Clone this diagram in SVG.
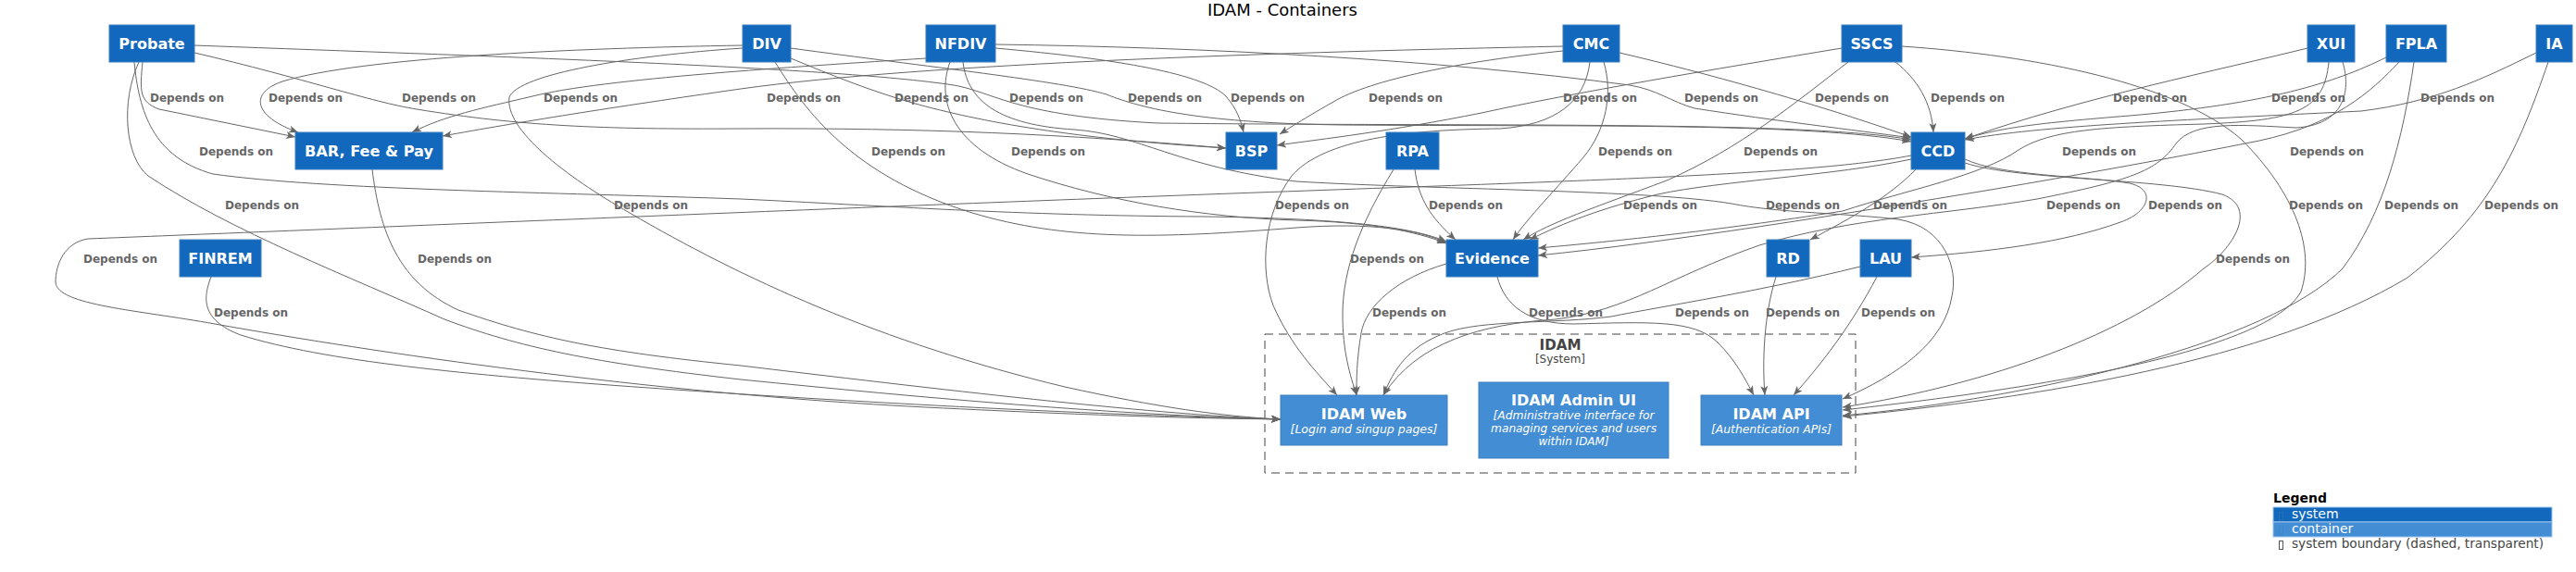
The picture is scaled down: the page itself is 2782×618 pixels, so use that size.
<svg xmlns="http://www.w3.org/2000/svg" width="2782" height="618" viewBox="0 0 2782 618">
<style>
.e path{fill:none;stroke:#666;stroke-width:1;marker-end:url(#a)}
.e text{font-family:"DejaVu Sans",sans-serif;font-weight:bold;font-size:12px;fill:#666}
.sys rect{fill:#1168BD;stroke:#3C7FC0;stroke-width:1}
.con rect{fill:#438DD5;stroke:#3C7FC0;stroke-width:1}
.t{font-family:"DejaVu Sans",sans-serif;font-weight:bold;font-size:16px;fill:#fff;text-anchor:middle}
.d{font-family:"DejaVu Sans",sans-serif;font-style:italic;font-size:12px;fill:#fff;text-anchor:middle}
.lg{font-family:"DejaVu Sans",sans-serif;font-size:14px}
</style>
<defs>
<marker id="a" viewBox="0 0 10 8" refX="10" refY="4" markerWidth="10" markerHeight="8" markerUnits="userSpaceOnUse" orient="auto"><path d="M0,0 L10,4 L0,8 L2.5,4 Z" fill="#666"/></marker>
</defs>
<rect width="2782" height="618" fill="#fff"/>
<text x="1385" y="17" font-family="DejaVu Sans, sans-serif" font-size="18" text-anchor="middle" fill="#000">IDAM - Containers</text>

<g id="idam-boundary">
<rect x="1366" y="361" width="638" height="150" fill="none" stroke="#444" stroke-width="1" stroke-dasharray="9,6"/>
<text x="1685" y="378" font-family="DejaVu Sans, sans-serif" font-weight="bold" font-size="16" fill="#444" text-anchor="middle" textLength="45" lengthAdjust="spacingAndGlyphs">IDAM</text>
<text x="1685" y="392" font-family="DejaVu Sans, sans-serif" font-size="12" fill="#444" text-anchor="middle">[System]</text>
</g>

<g id="connectors" class="e">
<g><path d="M154,67 C151,98 150,110 172,118 L319,148"/><text x="162" y="110">Depends on</text></g>
<g><path d="M802,49 C620,52 390,62 305,88 C270,100 272,125 322,143"/><text x="290" y="110">Depends on</text></g>
<g><path d="M210,57 C330,85 400,110 450,118 C560,136 650,140 800,139 C1000,138 1150,145 1324,160"/><text x="434" y="110">Depends on</text></g>
<g><path d="M1000,63 C860,72 650,85 575,104 C520,117 480,125 445,143"/><text x="587" y="110">Depends on</text></g>
<g><path d="M1688,50 C1400,56 1000,68 800,96 C660,116 560,132 478,147"/><text x="828" y="110">Depends on</text></g>
<g><path d="M854,63 C900,82 940,98 985,111 C1060,132 1160,150 1324,160"/><text x="966" y="110">Depends on</text></g>
<g><path d="M210,49 C500,60 900,72 1030,92 C1075,100 1095,125 1250,133 C1600,137 1950,130 2064,151"/><text x="1090" y="110">Depends on</text></g>
<g><path d="M854,52 C1000,72 1150,88 1195,102 C1235,118 1300,133 1450,135 C1700,137 1950,132 2064,153"/><text x="1218" y="110">Depends on</text></g>
<g><path d="M1075,52 C1210,64 1300,80 1324,104 C1336,118 1340,130 1343,143"/><text x="1329" y="110">Depends on</text></g>
<g><path d="M1688,55 C1580,66 1480,86 1440,110 C1412,126 1396,136 1382,145"/><text x="1478" y="110">Depends on</text></g>
<g><path d="M1989,52 C1850,75 1700,100 1600,122 C1500,142 1430,150 1379,157"/><text x="1688" y="110">Depends on</text></g>
<g><path d="M1075,48 C1300,51 1550,64 1760,92 C1790,97 1805,110 1830,117 C1920,131 2000,140 2064,149"/><text x="1819" y="110">Depends on</text></g>
<g><path d="M1749,57 C1830,76 1900,96 1950,111 C2000,126 2035,138 2064,148"/><text x="1960" y="110">Depends on</text></g>
<g><path d="M2047,67 C2070,85 2086,110 2088,143"/><text x="2085" y="110">Depends on</text></g>
<g><path d="M2492,52 C2400,75 2250,105 2122,150"/><text x="2282" y="110">Depends on</text></g>
<g><path d="M2577,62 C2520,90 2450,112 2300,125 C2200,133 2160,138 2122,150"/><text x="2453" y="110">Depends on</text></g>
<g><path d="M2739,57 C2680,86 2630,110 2550,120 C2350,130 2200,136 2122,151"/><text x="2614" y="110">Depends on</text></g>

<g><path d="M145,67 C150,120 165,170 230,188 C350,205 600,208 800,215 C950,222 1100,233 1300,234 C1450,236 1525,245 1562,261"/><text x="215" y="168">Depends on</text></g>
<g><path d="M837,67 C870,120 920,190 1050,230 C1150,260 1250,258 1400,246 C1480,240 1530,248 1562,262"/><text x="941" y="168">Depends on</text></g>
<g><path d="M1026,67 C1010,110 1030,160 1110,188 C1200,218 1300,235 1400,238 C1480,240 1530,250 1562,263"/><text x="1092" y="168">Depends on</text></g>
<g><path d="M1732,67 C1742,100 1735,140 1710,170 C1680,205 1650,235 1634,259"/><text x="1726" y="168">Depends on</text></g>
<g><path d="M1996,67 C1940,110 1880,160 1800,195 C1720,225 1675,240 1645,259"/><text x="1883" y="168">Depends on</text></g>
<g><path d="M2515,67 C2510,120 2480,130 2380,134 C2270,137 2215,140 2180,162 C2140,190 2060,205 1990,228 C1850,250 1730,262 1661,268"/><text x="2227" y="168">Depends on</text></g>
<g><path d="M2591,67 C2560,100 2520,135 2440,152 C2350,170 2250,188 2150,205 C2000,230 1800,262 1661,276"/><text x="2473" y="168">Depends on</text></g>

<g><path d="M150,67 C130,110 135,170 160,190 C250,250 380,300 480,345 C560,375 640,392 800,410 C1000,430 1200,448 1383,453"/><text x="243" y="226">Depends on</text></g>
<g><path d="M802,52 C680,60 560,80 550,105 C545,140 610,190 680,230 C800,300 950,370 1150,418 C1250,440 1320,450 1383,453"/><text x="663" y="226">Depends on</text></g>
<g><path d="M1717,67 C1712,110 1680,135 1620,139 C1520,140 1430,150 1395,190 C1365,230 1360,290 1375,330 C1395,375 1420,400 1444,427"/><text x="1377" y="226">Depends on</text></g>
<g><path d="M1528,183 C1532,215 1545,235 1572,259"/><text x="1543" y="226">Depends on</text></g>
<g><path d="M2064,172 C1980,190 1860,195 1790,210 C1730,225 1690,240 1652,259"/><text x="1753" y="226">Depends on</text></g>
<g><path d="M1040,67 C1045,110 1080,135 1160,140 C1230,145 1270,180 1400,196 C1550,205 1780,205 1870,220 C1920,230 1990,230 2050,237 C2100,245 2115,290 2108,320 C2100,370 2050,405 1990,431"/><text x="1907" y="226">Depends on</text></g>
<g><path d="M2069,183 C2040,213 2000,235 1955,259"/><text x="2023" y="226">Depends on</text></g>
<g><path d="M2530,67 C2540,100 2530,135 2480,138 C2420,135 2370,130 2350,155 C2330,185 2300,195 2200,215 C2100,232 2000,235 1900,265 C1800,300 1760,335 1680,345 C1600,350 1530,370 1494,427"/><text x="2210" y="226">Depends on</text></g>
<g><path d="M2122,172 C2160,190 2250,190 2300,198 C2330,205 2320,230 2290,240 C2230,262 2150,272 2064,278"/><text x="2320" y="226">Depends on</text></g>
<g><path d="M2054,50 C2200,60 2350,90 2420,150 C2480,210 2500,270 2485,315 C2450,380 2200,420 1990,443"/><text x="2472" y="226">Depends on</text></g>
<g><path d="M2607,67 C2595,150 2575,230 2530,290 C2450,370 2200,430 1990,449"/><text x="2575" y="226">Depends on</text></g>
<g><path d="M2752,67 C2720,160 2690,230 2600,300 C2450,390 2200,430 1990,450"/><text x="2683" y="226">Depends on</text></g>

<g><path d="M2064,168 C1950,190 1700,195 1250,212 C900,225 300,250 95,258 C70,262 60,285 60,305 C62,330 150,335 232,350 C400,380 700,425 1000,440 C1200,450 1300,452 1383,453"/><text x="90" y="284">Depends on</text></g>
<g><path d="M402,183 C410,250 430,305 495,335 C580,365 650,380 800,395 C1050,425 1250,448 1383,453"/><text x="451" y="284">Depends on</text></g>
<g><path d="M1505,183 C1470,240 1450,290 1450,340 C1450,380 1458,405 1465,427"/><text x="1458" y="284">Depends on</text></g>
<g><path d="M2122,176 C2180,195 2330,192 2400,210 C2440,225 2410,270 2380,290 C2300,360 2150,415 1990,440"/><text x="2393" y="284">Depends on</text></g>

<g><path d="M228,299 C220,320 215,345 260,362 C350,390 500,405 700,419 C1000,440 1250,450 1383,453"/><text x="231" y="342">Depends on</text></g>
<g><path d="M1562,285 C1510,300 1475,330 1470,360 C1465,390 1465,410 1465,427"/><text x="1482" y="342">Depends on</text></g>
<g><path d="M2009,288 C1900,315 1800,330 1740,342 C1680,350 1600,345 1560,360 C1520,375 1505,400 1494,427"/><text x="1651" y="342">Depends on</text></g>
<g><path d="M1617,299 C1625,330 1650,350 1700,350 C1780,348 1830,345 1855,370 C1875,390 1885,410 1894,427"/><text x="1809" y="342">Depends on</text></g>
<g><path d="M1918,299 C1905,340 1903,390 1906,427"/><text x="1907" y="342">Depends on</text></g>
<g><path d="M2027,299 C2000,350 1970,390 1937,427"/><text x="2010" y="342">Depends on</text></g>
</g>

<g id="probate" class="sys"><rect x="118" y="27" width="92" height="40"/><text class="t" x="164" y="53">Probate</text></g>
<g id="div" class="sys"><rect x="802" y="27" width="52" height="40"/><text class="t" x="828" y="53">DIV</text></g>
<g id="nfdiv" class="sys"><rect x="1000" y="27" width="75" height="40"/><text class="t" x="1037.5" y="53">NFDIV</text></g>
<g id="cmc" class="sys"><rect x="1688" y="27" width="61" height="40"/><text class="t" x="1718.5" y="53">CMC</text></g>
<g id="sscs" class="sys"><rect x="1989" y="27" width="65" height="40"/><text class="t" x="2021.5" y="53">SSCS</text></g>
<g id="xui" class="sys"><rect x="2492" y="27" width="51" height="40"/><text class="t" x="2517.5" y="53">XUI</text></g>
<g id="fpla" class="sys"><rect x="2577" y="27" width="65" height="40"/><text class="t" x="2609.5" y="53">FPLA</text></g>
<g id="ia" class="sys"><rect x="2739" y="27" width="39" height="40"/><text class="t" x="2758.5" y="53">IA</text></g>
<g id="bar" class="sys"><rect x="319" y="143" width="159" height="40"/><text class="t" x="398.5" y="169" textLength="139" lengthAdjust="spacingAndGlyphs">BAR, Fee &amp; Pay</text></g>
<g id="bsp" class="sys"><rect x="1324" y="143" width="55" height="40"/><text class="t" x="1351.5" y="169">BSP</text></g>
<g id="rpa" class="sys"><rect x="1497" y="143" width="57" height="40"/><text class="t" x="1525.5" y="169">RPA</text></g>
<g id="ccd" class="sys"><rect x="2064" y="143" width="58" height="40"/><text class="t" x="2093" y="169">CCD</text></g>
<g id="finrem" class="sys"><rect x="194" y="259" width="88" height="40"/><text class="t" x="238" y="285">FINREM</text></g>
<g id="evidence" class="sys"><rect x="1562" y="259" width="99" height="40"/><text class="t" x="1611.5" y="285">Evidence</text></g>
<g id="rd" class="sys"><rect x="1908" y="259" width="46" height="40"/><text class="t" x="1931" y="285">RD</text></g>
<g id="lau" class="sys"><rect x="2009" y="259" width="55" height="40"/><text class="t" x="2036.5" y="285">LAU</text></g>

<g id="idam-web" class="con"><rect x="1383" y="427" width="180" height="54"/><text class="t" x="1473" y="453">IDAM Web</text><text class="d" x="1473" y="468" textLength="159" lengthAdjust="spacingAndGlyphs">[Login and singup pages]</text></g>
<g id="idam-admin-ui" class="con"><rect x="1597" y="413" width="205" height="82"/><text class="t" x="1699.5" y="438">IDAM Admin UI</text><text class="d" x="1699.5" y="453" textLength="174" lengthAdjust="spacingAndGlyphs">[Administrative interface for</text><text class="d" x="1699.5" y="467" textLength="179" lengthAdjust="spacingAndGlyphs">managing services and users</text><text class="d" x="1699.5" y="481">within IDAM]</text></g>
<g id="idam-api" class="con"><rect x="1837" y="427" width="152" height="54"/><text class="t" x="1913" y="453">IDAM API</text><text class="d" x="1913" y="468" textLength="130" lengthAdjust="spacingAndGlyphs">[Authentication APIs]</text></g>

<g id="legend">
<text class="lg" x="2455" y="543" font-weight="bold" fill="#000">Legend</text>
<rect x="2455" y="548" width="301" height="16" fill="#1168BD" stroke="#9cc3ea" stroke-width="1"/>
<rect x="2455" y="564" width="301" height="16" fill="#438DD5" stroke="#9cc3ea" stroke-width="1"/>
<rect x="2461.5" y="553.5" width="4" height="9" fill="none" stroke="#2a6fb5" stroke-width="1"/>
<rect x="2461.5" y="569.5" width="4" height="9" fill="none" stroke="#3f86cc" stroke-width="1"/>
<rect x="2461.5" y="584.5" width="4" height="9" fill="none" stroke="#555" stroke-width="1"/>
<text class="lg" x="2475" y="560" fill="#fff">system</text>
<text class="lg" x="2475" y="576" fill="#fff">container</text>
<text class="lg" x="2475" y="592" fill="#444" textLength="272" lengthAdjust="spacingAndGlyphs">system boundary (dashed, transparent)</text>
</g>
</svg>
